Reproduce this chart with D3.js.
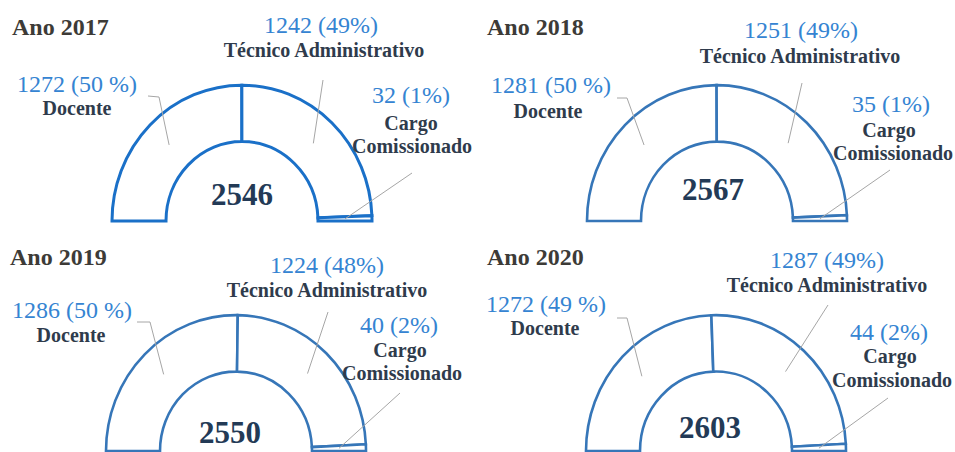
<!DOCTYPE html>
<html>
<head>
<meta charset="utf-8">
<script src="https://cdn.jsdelivr.net/npm/d3@7"></script>
<style>
  body { margin: 0; background: #fff; }
</style>
</head>
<body>
<svg id="chart" width="955" height="452"></svg>
<script>
// valores por ano
const years = ["2017", "2018", "2019", "2020"];
const categories = ["Docente", "Técnico Administrativo", "Cargo Comissionado"];
const docente = [1272, 1281, 1286, 1272];
const tecnico = [1242, 1251, 1224, 1287];
const cargo = [32, 35, 40, 44];
const totals = [2546, 2567, 2550, 2603];
const docentePct = ["50 %", "50 %", "50 %", "49 %"];
const tecnicoPct = ["49%", "49%", "48%", "49%"];
const cargoPct = ["1%", "1%", "2%", "2%"];

// posicoes de cada painel (centro do semicirculo, titulos, rotulos)
const layout = [
    {c: [242, 221], color: "#1a70c8", title: [12, 35], total: [242, 205],
     doc: {v: [77, 92], n: [77, 115], l: [[148, 96], [159, 97]]},
     tec: {v: [321, 33], n: [324, 57], l: [[323, 80]]},
     car: {v: [411, 103], n: [[411, 130], [412, 153]], l: [[412, 173]]}},
    {c: [717, 221], color: "#3676b8", title: [487, 35], total: [713, 200],
     doc: {v: [551, 93], n: [548, 118], l: [[617, 98], [627, 98]]},
     tec: {v: [801, 38], n: [800, 63], l: [[802, 83]]},
     car: {v: [891, 112], n: [[889, 137], [893, 160]], l: [[890, 170]]}},
    {c: [236, 451], color: "#3676b8", title: [10, 265], total: [230, 443],
     doc: {v: [72, 318], n: [71, 342], l: [[137, 322], [150, 322]]},
     tec: {v: [327, 273], n: [327, 297], l: [[328, 312]]},
     car: {v: [399, 333], n: [[400, 357], [402, 380]], l: [[400, 393]]}},
    {c: [716, 451], color: "#3676b8", title: [487, 265], total: [710, 438],
     doc: {v: [546, 312], n: [545, 335], l: [[617, 318], [627, 318]]},
     tec: {v: [827, 268], n: [827, 292], l: [[828, 305]]},
     car: {v: [889, 340], n: [[890, 363], [892, 387]], l: [[888, 398]]}}
];

const FONT = "'Liberation Serif', 'Times New Roman', Times, 'DejaVu Serif', serif";
const svg = d3.select("#chart").attr("font-family", FONT);
const yStretch = 1.045;

let pie = d3.pie().sort(null)
    .startAngle(-Math.PI / 2)
    .endAngle(Math.PI / 2);

let arc = d3.arc()
    .innerRadius(76)
    .outerRadius(130);

years.forEach((year, i) => {
    let lay = layout[i];
    let values = [docente[i], tecnico[i], cargo[i]];
    let slices = pie(values);

    let g = svg.append("g");

    // semicirculo
    let ring = g.append("g")
        .attr("transform", `translate(${lay.c[0]},${lay.c[1]}) scale(1,${yStretch})`);
    ring.selectAll("path")
        .data(slices)
        .enter().append("path")
        .attr("d", arc)
        .attr("fill", "#fff")
        .attr("stroke", lay.color)
        .attr("stroke-width", i === 0 ? 3 : 2.6)
        .attr("stroke-linejoin", "miter")
        .attr("vector-effect", "non-scaling-stroke");

    // linhas de chamada ate o centroide
    let ends = slices.map(s => {
        let p = arc.centroid(s);
        return [lay.c[0] + p[0], lay.c[1] + p[1] * yStretch];
    });
    [lay.doc, lay.tec, lay.car].forEach((lab, k) => {
        let pts = lab.l.concat([ends[k]]);
        g.append("path")
            .attr("d", d3.line()(pts))
            .attr("fill", "none")
            .attr("stroke", "#a6a6a6")
            .attr("stroke-width", 1);
    });

    // titulo
    g.append("text")
        .attr("x", lay.title[0]).attr("y", lay.title[1])
        .attr("font-family", FONT)
        .attr("font-size", 24).attr("font-weight", "bold")
        .attr("fill", "#3d3b37")
        .text("Ano " + year);

    // total no centro
    g.append("text")
        .attr("x", lay.total[0]).attr("y", lay.total[1])
        .attr("text-anchor", "middle")
        .attr("font-family", FONT)
        .attr("font-size", 31).attr("font-weight", "bold")
        .attr("fill", "#233a56")
        .text(totals[i]);

    let valueText = (pos, txt) => g.append("text")
        .attr("x", pos[0]).attr("y", pos[1])
        .attr("text-anchor", "middle")
        .attr("font-family", FONT)
        .attr("font-size", 24)
        .attr("fill", "#3584d2")
        .text(txt);
    let nameText = (pos, txt) => g.append("text")
        .attr("x", pos[0]).attr("y", pos[1])
        .attr("text-anchor", "middle")
        .attr("font-family", FONT)
        .attr("font-size", 20).attr("font-weight", "bold")
        .attr("fill", "#2f3b4c")
        .text(txt);

    valueText(lay.doc.v, `${docente[i]} (${docentePct[i]})`);
    nameText(lay.doc.n, categories[0]);
    valueText(lay.tec.v, `${tecnico[i]} (${tecnicoPct[i]})`);
    nameText(lay.tec.n, categories[1]);
    valueText(lay.car.v, `${cargo[i]} (${cargoPct[i]})`);
    let parts = categories[2].split(" ");
    nameText(lay.car.n[0], parts[0]);
    nameText(lay.car.n[1], parts[1]);
});
</script>
</body>
</html>
